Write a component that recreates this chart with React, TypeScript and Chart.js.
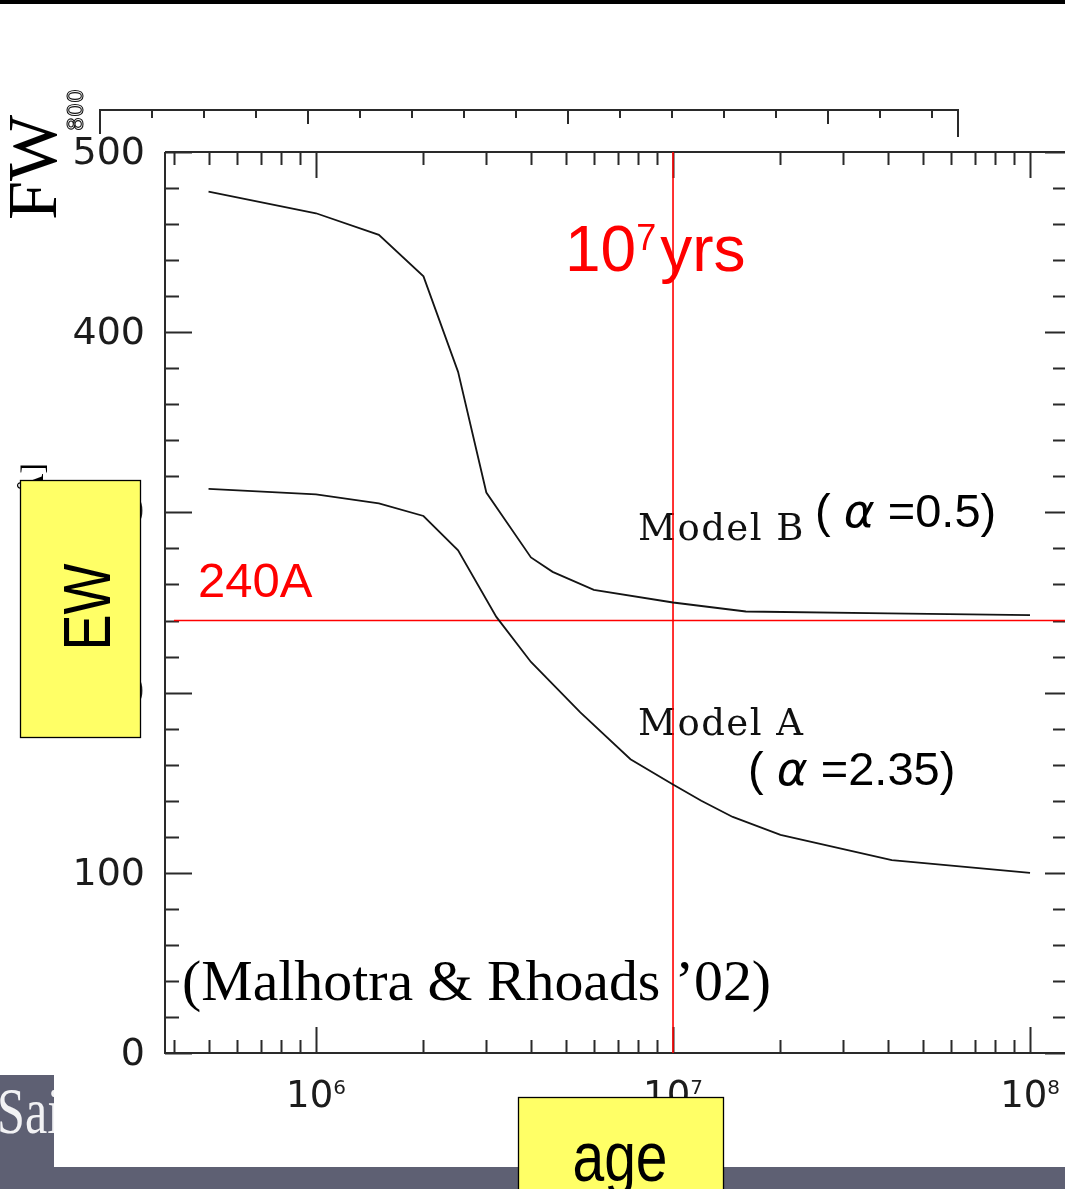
import React, { useEffect, useRef } from "react";
import { Chart, registerables } from "chart.js";

Chart.register(...registerables);

const W = 1065;
const H = 1189;

// Stellar population age (yr) and Lyman-alpha equivalent width (Å)
const AGE_B = [5e5, 1e6, 1.5e6, 2e6, 2.5e6, 3e6, 4e6, 4.6e6, 6e6, 1e7, 1.6e7, 4e7, 1e8];
const EW_B = [478, 466, 454, 431, 378, 311, 275, 267, 257, 250, 245, 244, 243];

const AGE_A = [5e5, 1e6, 1.5e6, 2e6, 2.5e6, 3.2e6, 4e6, 5.5e6, 7.6e6, 1e7, 1.2e7, 1.47e7, 2e7, 4.1e7, 1e8];
const EW_A = [313, 310, 305, 298, 279, 242, 217, 189, 163, 149, 140, 131, 121, 107, 100];

// reference markers
const AGE_MARK = 1e7;
const EW_MARK = 240;
const EW_MARK_FROM = 4e5;

// axes
const X_MIN = 3.776e5;
const X_MAX = 1.253e8;
const Y_MIN = 0;
const Y_MAX = 500;
const Y_LABELS = [0, 100, 200, 300, 400, 500];
const Y_STEP_MINOR = 20;
const X_DECADES = [6, 7, 8];

const SANS = '"Liberation Sans", Arial, sans-serif';
const SERIF = '"Liberation Serif", "Times New Roman", serif';
const SLAB = '"DejaVu Serif", serif';
const TICKF = '"DejaVu Sans", sans-serif';
const INK = "#1c1c1c";
const RED = "#ff0000";
const YELLOW = "#ffff66";
const SLATE = "#5e6073";

type Run = { text: string; font: string; gap?: number; dy?: number };

function drawRuns(ctx: CanvasRenderingContext2D, x: number, y: number, runs: Run[]) {
  let cx = x;
  for (const r of runs) {
    ctx.font = r.font;
    ctx.fillText(r.text, cx, y + (r.dy || 0));
    cx += ctx.measureText(r.text).width + (r.gap || 0);
  }
}

const framePlugin = {
  id: "frameAndNotes",
  beforeDatasetsDraw(chart: any) {
    const { ctx, chartArea: a, scales } = chart;
    const xs = scales.x;
    const ys = scales.y;
    const right = a.right + 2;
    ctx.save();

    // plot frame
    ctx.strokeStyle = "#2a2a2a";
    ctx.lineWidth = 2;
    ctx.beginPath();
    ctx.moveTo(a.left, a.top);
    ctx.lineTo(right, a.top);
    ctx.moveTo(a.left, a.top);
    ctx.lineTo(a.left, a.bottom);
    ctx.lineTo(right, a.bottom);
    ctx.moveTo(right, a.top);
    ctx.lineTo(right, a.bottom);
    ctx.stroke();

    // y ticks, both sides, pointing inward
    ctx.beginPath();
    for (let v = Y_MIN; v <= Y_MAX; v += Y_STEP_MINOR) {
      const py = Math.round(ys.getPixelForValue(v)) + 0.5;
      const major = v % 100 === 0;
      ctx.moveTo(a.left, py);
      ctx.lineTo(a.left + (major ? 27 : 14), py);
      ctx.moveTo(right, py);
      ctx.lineTo(right - (major ? 22 : 14), py);
    }
    // x ticks, top and bottom
    for (let n = 5; n <= 8; n++) {
      for (let k = 1; k <= 9; k++) {
        const v = k * Math.pow(10, n);
        if (v < X_MIN || v > X_MAX) continue;
        const px = Math.round(xs.getPixelForValue(v)) + 0.5;
        const len = k === 1 ? 26 : 13;
        ctx.moveTo(px, a.bottom);
        ctx.lineTo(px, a.bottom - len);
        ctx.moveTo(px, a.top);
        ctx.lineTo(px, a.top + len);
      }
    }
    ctx.stroke();

    // y tick labels
    ctx.fillStyle = INK;
    ctx.font = `38px ${TICKF}`;
    ctx.textAlign = "right";
    ctx.textBaseline = "middle";
    for (const v of Y_LABELS) {
      ctx.fillText(String(v), a.left - 20, ys.getPixelForValue(v) + 2);
    }

    // x tick labels 10^n
    ctx.textAlign = "left";
    ctx.textBaseline = "alphabetic";
    for (const e of X_DECADES) {
      const cx = xs.getPixelForValue(Math.pow(10, e));
      ctx.font = `37px ${TICKF}`;
      const wb = ctx.measureText("10").width;
      ctx.font = `20px ${TICKF}`;
      const we = ctx.measureText(String(e)).width;
      const x0 = cx - (wb + we) / 2;
      ctx.font = `37px ${TICKF}`;
      ctx.fillText("10", x0, 1107);
      ctx.font = `20px ${TICKF}`;
      ctx.fillText(String(e), x0 + wb, 1094);
    }

    // upper panel axis remnant
    ctx.strokeStyle = "#2a2a2a";
    ctx.lineWidth = 2;
    ctx.beginPath();
    ctx.moveTo(100, 134);
    ctx.lineTo(100, 110);
    ctx.lineTo(958, 110);
    ctx.lineTo(958, 137);
    for (let i = 0; i < 16; i++) {
      const px = 152 + i * 52;
      ctx.moveTo(px, 110);
      ctx.lineTo(px, 110 + (i % 5 === 3 ? 14 : 8));
    }
    ctx.stroke();

    // left fragments of the original axis titles
    ctx.save();
    ctx.fillStyle = "#000";
    ctx.font = `70px ${SERIF}`;
    ctx.translate(56, 220);
    ctx.rotate(-Math.PI / 2);
    ctx.fillText("FW", 0, 0);
    ctx.restore();

    ctx.save();
    ctx.strokeStyle = "#111";
    ctx.lineWidth = 1.1;
    ctx.font = `22px ${TICKF}`;
    ctx.translate(83, 131);
    ctx.rotate(-Math.PI / 2);
    ctx.strokeText("800", 0, 0);
    ctx.restore();

    ctx.save();
    ctx.fillStyle = "#000";
    ctx.font = `32px ${SERIF}`;
    ctx.translate(43, 463);
    ctx.rotate(-Math.PI / 2);
    ctx.textAlign = "right";
    ctx.fillText("[Å]", 0, 0);
    ctx.restore();

    // annotations
    ctx.fillStyle = RED;
    drawRuns(ctx, 565, 271, [
      { text: "10", font: `64px ${SANS}` },
      { text: "7", font: `36px ${SANS}`, dy: -21, gap: 4 },
      { text: "yrs", font: `64px ${SANS}` },
    ]);
    ctx.font = `49px ${SANS}`;
    ctx.fillText("240A", 198, 597);

    ctx.fillStyle = "#111";
    const slab = (label: string, x: number, y: number) => {
      ctx.save();
      (ctx as any).letterSpacing = "1.5px";
      ctx.font = `37px ${SLAB}`;
      ctx.fillText(label, x, y);
      ctx.restore();
    };
    slab("Model B", 638, 540);
    slab("Model A", 638, 735);

    ctx.fillStyle = "#000";
    const alpha = `italic 47px "DejaVu Sans", sans-serif`;
    drawRuns(ctx, 815, 527, [
      { text: "( ", font: `47px ${SANS}` },
      { text: "α", font: alpha },
      { text: " =0.5)", font: `47px ${SANS}` },
    ]);
    drawRuns(ctx, 748, 785, [
      { text: "( ", font: `47px ${SANS}` },
      { text: "α", font: alpha },
      { text: " =2.35)", font: `47px ${SANS}` },
    ]);

    ctx.font = `57.8px ${SERIF}`;
    ctx.fillText("(Malhotra & Rhoads \u201902)", 182, 1000);

    ctx.restore();
  },
  afterDraw(chart: any) {
    const { ctx } = chart;
    ctx.save();

    // bottom band and name tab
    ctx.fillStyle = SLATE;
    ctx.fillRect(0, 1167, W, H - 1167);
    ctx.fillRect(0, 1075, 54, 1167 - 1075);
    ctx.save();
    ctx.beginPath();
    ctx.rect(0, 1075, 54, 114);
    ctx.clip();
    ctx.fillStyle = "#f2f2f4";
    ctx.translate(-3, 1133);
    ctx.scale(0.76, 1);
    ctx.font = `66px ${SERIF}`;
    ctx.fillText("Sai", 0, 0);
    ctx.restore();

    // axis captions on yellow cards
    ctx.lineWidth = 1.3;
    ctx.strokeStyle = "#000";
    ctx.fillStyle = YELLOW;
    ctx.fillRect(20, 480, 120, 257);
    ctx.strokeRect(20.5, 480.5, 120, 257);
    ctx.fillRect(518, 1097, 205, 100);
    ctx.strokeRect(518.5, 1097.5, 205, 100);

    ctx.fillStyle = "#000";
    ctx.save();
    ctx.translate(86, 607);
    ctx.rotate(-Math.PI / 2);
    ctx.scale(1, 1.24);
    ctx.font = `54px ${SANS}`;
    ctx.textAlign = "center";
    ctx.fillText("EW", 0, 19.3);
    ctx.restore();

    ctx.save();
    ctx.translate(620, 1181);
    ctx.scale(1, 1.22);
    ctx.font = `57px ${SANS}`;
    ctx.textAlign = "center";
    ctx.fillText("age", 0, 0);
    ctx.restore();

    // top rule
    ctx.fillStyle = "#000";
    ctx.fillRect(0, 0, W, 4);
    ctx.restore();
  },
};

export default function App() {
  const ref = useRef<HTMLCanvasElement>(null);

  useEffect(() => {
    const canvas = ref.current;
    if (!canvas) return;
    const line = (label: string, xs: number[], ys: number[], color: string, width: number) => ({
      label,
      data: xs.map((x, i) => ({ x, y: ys[i] })),
      borderColor: color,
      backgroundColor: color,
      borderWidth: width,
      pointRadius: 0,
      tension: 0,
      fill: false,
    });
    const chart = new Chart(canvas, {
      type: "line",
      data: {
        datasets: [
          line("Model A (α=2.35)", AGE_A, EW_A, "#141414", 1.8),
          line("Model B (α=0.5)", AGE_B, EW_B, "#141414", 1.8),
          line("10^7 yrs", [AGE_MARK, AGE_MARK], [Y_MIN, Y_MAX], RED, 1.6),
          line("240A", [EW_MARK_FROM, X_MAX], [EW_MARK, EW_MARK], RED, 1.6),
        ],
      },
      options: {
        responsive: false,
        animation: false,
        events: [],
        layout: { padding: { left: 165, top: 152, right: 0, bottom: H - 1053 } },
        plugins: { legend: { display: false }, tooltip: { enabled: false } },
        scales: {
          x: { type: "logarithmic", min: X_MIN, max: X_MAX, display: false },
          y: { type: "linear", min: Y_MIN, max: Y_MAX, display: false },
        },
      },
      plugins: [framePlugin],
    } as any);
    return () => chart.destroy();
  }, []);

  return (
    <div style={{ position: "fixed", left: 0, top: 0, width: W, height: H, background: "#fff", overflow: "hidden" }}>
      <canvas ref={ref} width={W} height={H} style={{ display: "block", width: W, height: H }} />
    </div>
  );
}
